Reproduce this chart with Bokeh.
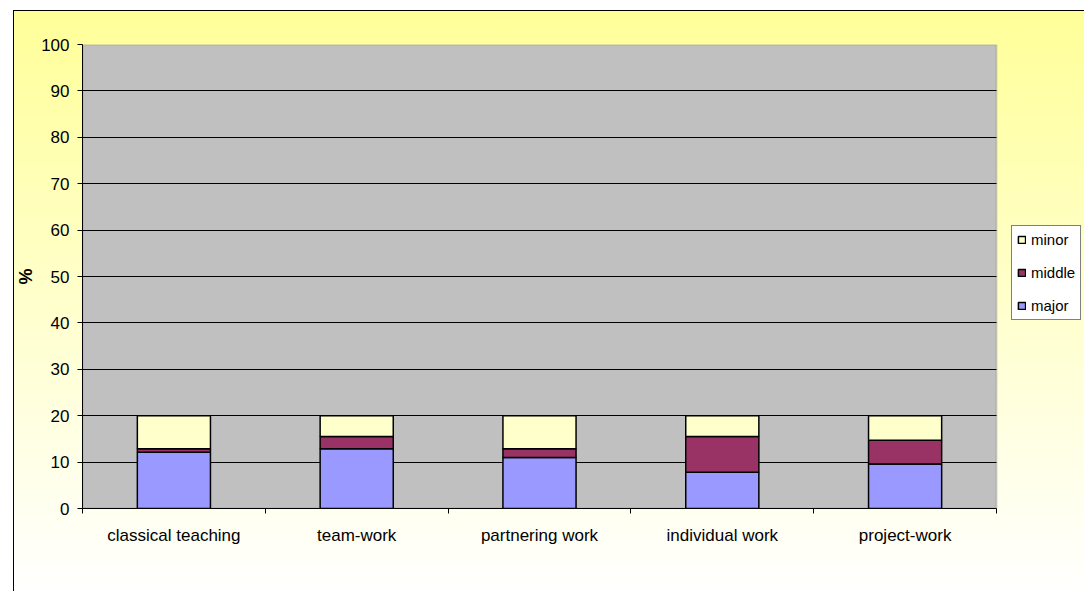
from bokeh.plotting import figure
from bokeh.models import ColumnDataSource, FixedTicker, Legend, LegendItem, BoxAnnotation
from bokeh.embed import file_html
from bokeh.resources import INLINE

categories = ["classical teaching", "team-work", "partnering work", "individual work", "project-work"]
major = [12.1, 12.9, 11.0, 7.8, 9.6]
middle = [0.8, 2.6, 1.9, 7.7, 5.1]
minor = [7.1, 4.5, 7.1, 4.5, 5.3]
y_ticks = [0, 10, 20, 30, 40, 50, 60, 70, 80, 90, 100]

n = len(categories)
xs = [i + 0.5 for i in range(n)]
source = ColumnDataSource(dict(x=xs, major=major, middle=middle, minor=minor))

FONT = "Liberation Sans"

# plot area is 914 px wide for the 5 categories; the canvas frame runs on to the window edge
FRAME_W = 1002
x_end = n * FRAME_W / 914.0

p = figure(width=1071, height=581, x_range=(0, x_end), y_range=(0, 100),
           output_backend="svg", toolbar_location=None,
           min_border_left=69, min_border_right=0, min_border_top=34, min_border_bottom=83)
p.margin = (10, 0, 0, 13)
p.border_fill_color = None
p.background_fill_color = None
p.outline_line_color = None
p.styles = {"background": "linear-gradient(to bottom, #FFFF99 0%, #FFFFFF 100%)",
            "box-shadow": "inset 1px 1px 0 #000000"}

plot_area = BoxAnnotation(left=0, right=n, bottom=0, top=100, fill_color="#C0C0C0", fill_alpha=1,
                          line_color="#808080", line_width=2, level="image")
p.add_layout(plot_area)

renderers = p.vbar_stack(["major", "middle", "minor"], x="x", width=0.4, source=source,
                         fill_color=["#9999FF", "#993366", "#FFFFCC"],
                         line_color="black", line_width=1.5)

# grid
p.xgrid.visible = False
p.ygrid.ticker = FixedTicker(ticks=y_ticks)
p.ygrid.grid_line_color = "black"
p.ygrid.grid_line_width = 1
p.ygrid.cross_bounds = (0, n)
p.ygrid.level = "underlay"

# y axis
p.yaxis.ticker = FixedTicker(ticks=y_ticks)
p.yaxis.major_tick_in = 0
p.yaxis.major_tick_out = 5
p.yaxis.minor_tick_line_color = None
p.yaxis.major_label_standoff = 8
p.yaxis.major_label_text_font = FONT
p.yaxis.major_label_text_font_size = "17px"
p.yaxis.major_label_text_color = "black"
p.yaxis.axis_label = "%"
p.yaxis.axis_label_text_font = FONT
p.yaxis.axis_label_text_font_size = "18px"
p.yaxis.axis_label_text_font_style = "bold"
p.yaxis.axis_label_text_color = "black"
p.yaxis.axis_label_standoff = 2
p.yaxis.axis_line_color = "black"
p.yaxis.major_tick_line_color = "black"

# x axis: labels at centres, ticks at boundaries
p.xaxis.bounds = (0, n)
p.xaxis.ticker = FixedTicker(ticks=xs, minor_ticks=list(range(n + 1)))
p.xaxis.major_label_overrides = {x: c for x, c in zip(xs, categories)}
p.xaxis.major_tick_in = 0
p.xaxis.major_tick_out = 0
p.xaxis.minor_tick_in = 0
p.xaxis.minor_tick_out = 5
p.xaxis.minor_tick_line_color = "black"
p.xaxis.major_label_standoff = 12
p.xaxis.major_label_text_font = FONT
p.xaxis.major_label_text_font_size = "17px"
p.xaxis.major_label_text_color = "black"
p.xaxis.axis_line_color = "black"

legend = Legend(items=[LegendItem(label="minor", renderers=[renderers[2]]),
                       LegendItem(label="middle", renderers=[renderers[1]]),
                       LegendItem(label="major", renderers=[renderers[0]])],
                location=(929, 188))
legend.glyph_width = 9
legend.glyph_height = 9
legend.label_standoff = 5
legend.label_height = 16
legend.padding = 5
legend.spacing = 16
legend.margin = 0
legend.label_text_font = FONT
legend.label_text_font_size = "15px"
legend.label_text_color = "black"
legend.border_line_color = "black"
legend.border_line_width = 1
legend.background_fill_color = "white"
legend.background_fill_alpha = 1
p.add_layout(legend, "center")

open("out.html", "w").write(file_html(p, INLINE))
